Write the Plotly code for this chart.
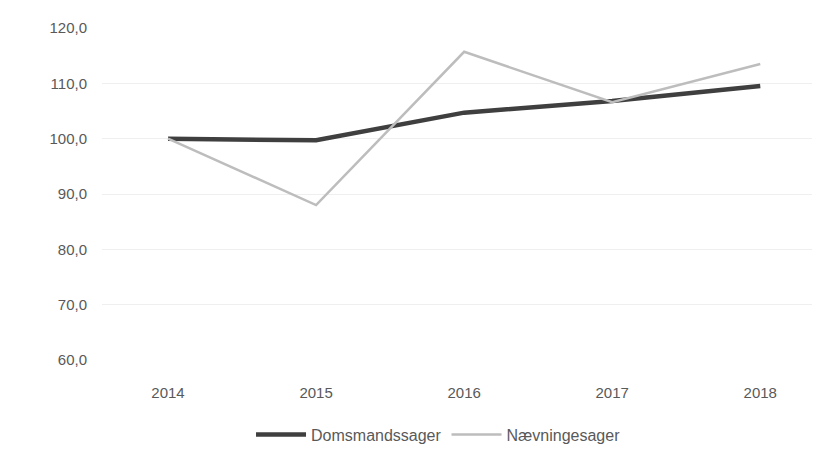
import plotly.graph_objects as go

years = ["2014", "2015", "2016", "2017", "2018"]
domsmand = [100.0, 99.7, 104.7, 106.8, 109.5]
naevning = [100.0, 88.0, 115.7, 106.6, 113.5]
y_ticks = [60, 70, 80, 90, 100, 110, 120]
y_tick_text = ["60,0", "70,0", "80,0", "90,0", "100,0", "110,0", "120,0"]

font_family = "Liberation Sans, sans-serif"

fig = go.Figure()
fig.add_trace(go.Scatter(x=years, y=domsmand, mode="lines", name="Domsmandssager",
                         line=dict(color="#3f3f3f", width=4.5)))
fig.add_trace(go.Scatter(x=years, y=naevning, mode="lines", name="Nævningesager",
                         line=dict(color="#bdbdbd", width=2.5)))

fig.update_layout(
    width=820, height=454,
    margin=dict(l=94, r=10, t=20, b=92),
    paper_bgcolor="white", plot_bgcolor="white",
    font=dict(family=font_family, size=15, color="#595959"),
    showlegend=True,
    legend=dict(orientation="h", x=0.47, xanchor="center", y=-0.225, yanchor="middle",
                font=dict(size=16, color="#595959"), itemwidth=50),
    xaxis=dict(type="category", range=[-0.446, 4.39], showgrid=False, zeroline=False,
               showline=False, ticks="", ticklabelstandoff=22,
               tickfont=dict(size=15, color="#595959")),
    yaxis=dict(range=[60, 120], tickvals=y_ticks, ticktext=y_tick_text,
               showgrid=True, gridcolor="#efefef", gridwidth=1, zeroline=False,
               showline=False, ticks="", ticklabelstandoff=14,
               tickfont=dict(size=15, color="#595959")),
)

fig.write_html("out.html")
